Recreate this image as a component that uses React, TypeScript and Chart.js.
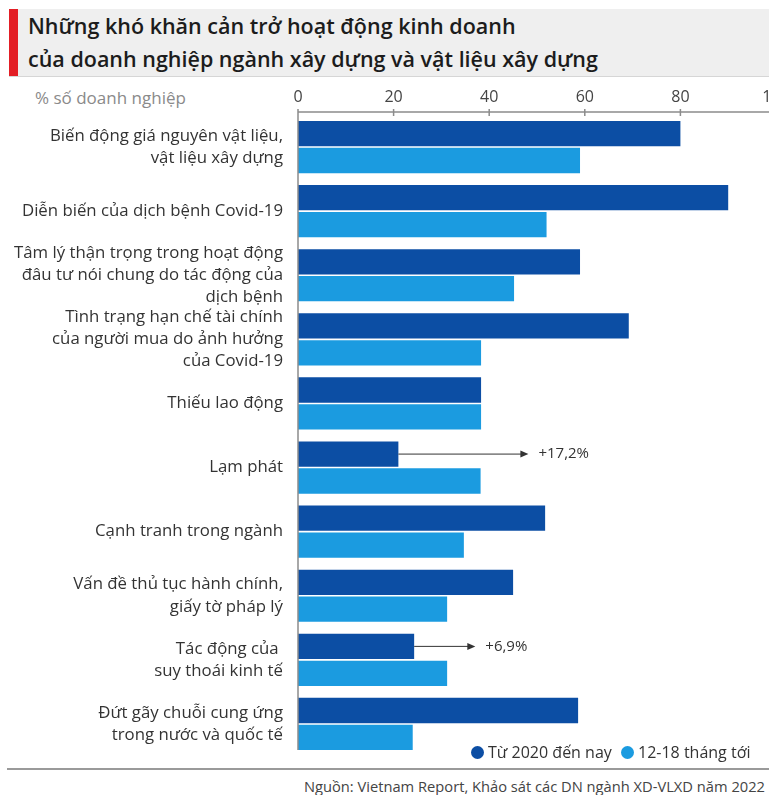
import React, { useEffect, useRef } from "react";
import { Chart, registerables } from "chart.js";
Chart.register(...registerables);

const titleLines = [
  "Những khó khăn cản trở hoạt động kinh doanh",
  "của doanh nghiệp ngành xây dựng và vật liệu xây dựng",
];
const unitLabel = "% số doanh nghiệp";
const sourceText = "Nguồn: Vietnam Report, Khảo sát các DN ngành XD-VLXD năm 2022";

const categories: string[][] = [
  ["Biến động giá nguyên vật liệu,", "vật liệu xây dựng"],
  ["Diễn biến của dịch bệnh Covid-19"],
  ["Tâm lý thận trọng trong hoạt động", "đâu tư nói chung do tác động của", "dịch bệnh"],
  ["Tình trạng hạn chế tài chính", "của người mua do ảnh hưởng", "của Covid-19"],
  ["Thiếu lao động"],
  ["Lạm phát"],
  ["Cạnh tranh trong ngành"],
  ["Vấn đề thủ tục hành chính,", "giấy tờ pháp lý"],
  ["Tác động của ", "suy thoái kinh tế"],
  ["Đứt gãy chuỗi cung ứng", "trong nước và quốc tế"],
];

const seriesNames = ["Từ 2020 đến nay", "12-18 tháng tới"];
const since2020 = [80, 90, 59, 69.2, 38.3, 21, 51.7, 45, 24.3, 58.6];
const next12to18 = [59, 52, 45.2, 38.3, 38.3, 38.2, 34.7, 31.2, 31.2, 24];

const xTicks = [0, 20, 40, 60, 80, 100];

const annotationRows = [5, 8];
const annotationTexts = ["+17,2%", "+6,9%"];
const annotationArrowEnds = [48.2, 37.1];

const DARK = "#0c4ea4";
const LIGHT = "#1b9be0";
const FONT = "'Open Sans', Roboto, sans-serif";

const axisPlugin = {
  id: "customAxis",
  afterDraw(chart: any) {
    const { ctx, chartArea, scales } = chart;
    const x = scales.x;
    const y0 = chartArea.top - 3;
    ctx.save();
    ctx.strokeStyle = "#8c8c8c";
    ctx.lineWidth = 1.5;
    ctx.beginPath();
    ctx.moveTo(chartArea.left, y0);
    ctx.lineTo(chart.width, y0);
    xTicks.forEach((v) => {
      const px = x.getPixelForValue(v);
      ctx.moveTo(px, y0 - 3);
      ctx.lineTo(px, y0 + 4);
    });
    ctx.moveTo(chartArea.left, y0);
    ctx.lineTo(chartArea.left, chartArea.bottom - 6);
    ctx.stroke();

    const meta = chart.getDatasetMeta(0);
    annotationRows.forEach((row, i) => {
      const bar = meta.data[row];
      if (!bar) return;
      const sx = bar.x;
      const sy = bar.y;
      const ex = x.getPixelForValue(annotationArrowEnds[i]);
      ctx.strokeStyle = "#333";
      ctx.fillStyle = "#333";
      ctx.lineWidth = 1;
      ctx.beginPath();
      ctx.moveTo(sx, sy);
      ctx.lineTo(ex - 6, sy);
      ctx.stroke();
      ctx.beginPath();
      ctx.moveTo(ex, sy);
      ctx.lineTo(ex - 8, sy - 3.5);
      ctx.lineTo(ex - 8, sy + 3.5);
      ctx.closePath();
      ctx.fill();
      ctx.font = `15px ${FONT}`;
      ctx.textBaseline = "middle";
      ctx.textAlign = "left";
      ctx.fillStyle = "#333";
      ctx.fillText(annotationTexts[i], ex + 10, sy);
    });
    ctx.restore();
  },
};

function BarChart() {
  const ref = useRef<HTMLCanvasElement>(null);
  useEffect(() => {
    if (!ref.current) return;
    const chart = new Chart(ref.current, {
      type: "bar",
      data: {
        labels: categories,
        datasets: [
          {
            label: seriesNames[0],
            data: since2020,
            backgroundColor: DARK,
            categoryPercentage: 0.84,
            barPercentage: 0.94,
          },
          {
            label: seriesNames[1],
            data: next12to18,
            backgroundColor: LIGHT,
            categoryPercentage: 0.84,
            barPercentage: 0.94,
          },
        ],
      },
      options: {
        indexAxis: "y",
        responsive: false,
        animation: false,
        devicePixelRatio: 1,
        layout: { padding: { left: 0, right: 14, top: 0, bottom: 4 } },
        plugins: {
          legend: { display: false },
          tooltip: { enabled: false },
        },
        scales: {
          x: {
            position: "top",
            min: 0,
            max: 100,
            afterBuildTicks(scale: any) {
              scale.ticks = xTicks.map((v) => ({ value: v }));
            },
            afterFit(scale: any) {
              scale.height = 35;
              scale.paddingLeft = 0;
              scale.paddingRight = 0;
            },
            grid: { display: false, drawTicks: false },
            border: { display: false },
            ticks: {
              padding: 8,
              color: "#444",
              font: { family: FONT, size: 16 },
            },
          },
          y: {
            afterFit(scale: any) {
              scale.width = 298;
              scale.paddingTop = 0;
              scale.paddingBottom = 0;
            },
            grid: { display: false, drawTicks: false },
            border: { display: false },
            ticks: {
              autoSkip: false,
              padding: 15,
              color: "#333",
              font: { family: FONT, size: 16.8, lineHeight: 1.32 },
            },
          },
        },
      },
      plugins: [axisPlugin],
    });
    return () => chart.destroy();
  }, []);
  return (
    <canvas
      ref={ref}
      width={790}
      height={680}
      style={{ position: "absolute", left: 0, top: 80, width: 790, height: 680 }}
    />
  );
}

export default function App() {
  return (
    <div
      style={{
        position: "absolute",
        left: 0,
        top: 0,
        width: 769,
        height: 795,
        overflow: "hidden",
        background: "#fff",
        fontFamily: FONT,
      }}
    >
      <div
        style={{
          position: "absolute",
          left: 9,
          top: 9,
          width: 760,
          height: 67,
          background: "#efefef",
          borderBottom: "1px solid #d6d6d6",
        }}
      />
      <div style={{ position: "absolute", left: 9, top: 9, width: 9, height: 67, background: "#e31e25" }} />
      <div
        style={{
          position: "absolute",
          left: 28,
          top: 9,
          fontSize: 21.5,
          fontWeight: 600,
          lineHeight: "33px",
          color: "#1c1c1c",
          whiteSpace: "nowrap",
        }}
      >
        {titleLines.map((t, i) => (
          <div key={i}>{t}</div>
        ))}
      </div>
      <div
        style={{
          position: "absolute",
          left: 35,
          top: 86,
          fontSize: 17,
          color: "#8a8a8a",
          whiteSpace: "nowrap",
        }}
      >
        {unitLabel}
      </div>
      <BarChart />
      <div style={{ position: "absolute", left: 471, top: 746, width: 13, height: 13, borderRadius: "50%", background: DARK }} />
      <div style={{ position: "absolute", left: 488, top: 741, fontSize: 16, lineHeight: "22px", color: "#333", whiteSpace: "nowrap" }}>
        {seriesNames[0]}
      </div>
      <div style={{ position: "absolute", left: 621, top: 746, width: 13, height: 13, borderRadius: "50%", background: LIGHT }} />
      <div style={{ position: "absolute", left: 638, top: 741, fontSize: 16, lineHeight: "22px", color: "#333", whiteSpace: "nowrap" }}>
        {seriesNames[1]}
      </div>
      <div style={{ position: "absolute", left: 7, top: 768, width: 762, height: 2, background: "#9a9a9a" }} />
      <div
        style={{
          position: "absolute",
          right: 4,
          top: 776,
          fontSize: 14.7,
          lineHeight: "20px",
          color: "#444",
          whiteSpace: "nowrap",
        }}
      >
        {sourceText}
      </div>
    </div>
  );
}
